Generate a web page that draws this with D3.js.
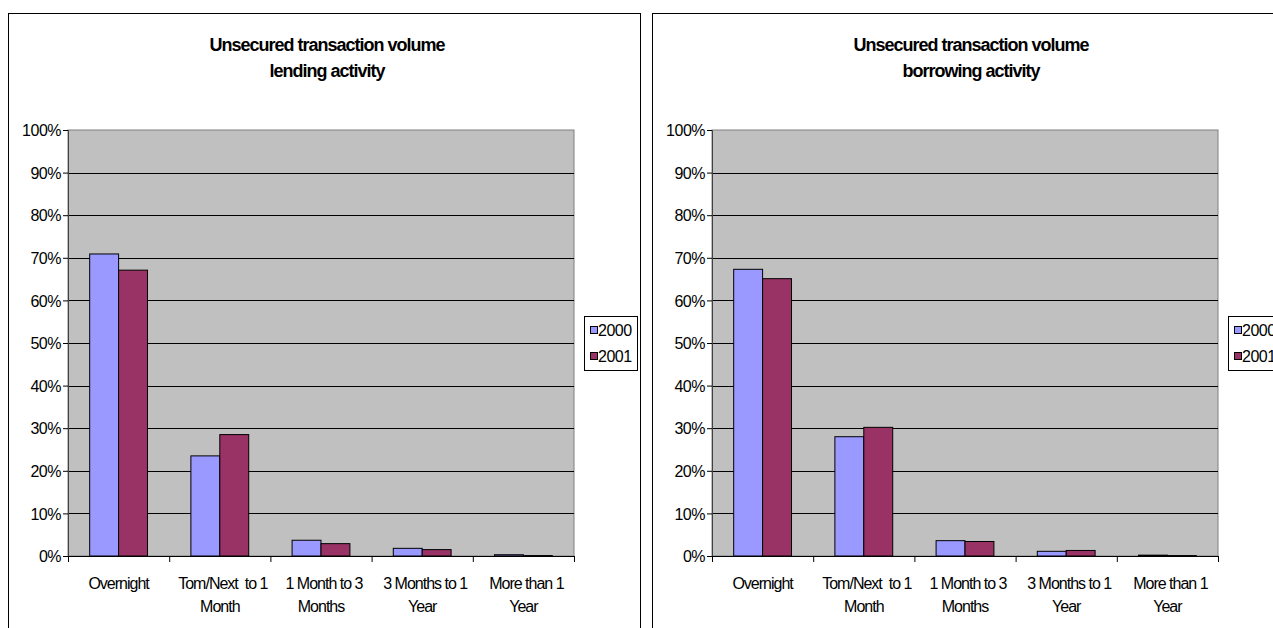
<!DOCTYPE html>
<html>
<head>
<meta charset="utf-8">
<script src="https://cdn.jsdelivr.net/npm/d3@7/dist/d3.min.js"></script>
<style>
  html, body { margin: 0; padding: 0; background: #fff; }
  svg { display: block; font-family: "Liberation Sans", Arial, sans-serif; }
  .tick text, .legend text { font-size: 16px; letter-spacing: -0.5px; fill: #000; }
  .cat text { font-size: 16px; letter-spacing: -1px; fill: #000; }
  .title { font-size: 18px; font-weight: bold; letter-spacing: -1px; }
</style>
</head>
<body>
<script>
// Maturity buckets of unsecured money-market transactions
const categories = ["Overnight", "Tom/Next to 1 Month", "1 Month to 3 Months", "3 Months to 1 Year", "More than 1 Year"];
const categoryLines = [["Overnight"], ["Tom/Next  to 1", "Month"], ["1 Month to 3", "Months"], ["3 Months to 1", "Year"], ["More than 1", "Year"]];
const seriesNames = ["2000", "2001"];
const seriesColors = ["#9999FF", "#993366"];

// Share of total volume, percent
const lending2000 = [70.9, 23.5, 3.7, 1.8, 0.3];
const lending2001 = [67.1, 28.5, 2.9, 1.5, 0.1];
const borrowing2000 = [67.3, 28.0, 3.6, 1.1, 0.2];
const borrowing2001 = [65.1, 30.2, 3.4, 1.3, 0.1];

const yTicks = [0, 10, 20, 30, 40, 50, 60, 70, 80, 90, 100];

const W = 1273, H = 628;
const svg = d3.select("body").append("svg").attr("width", W).attr("height", H);

function drawPanel(ox, titleLines, s2000, s2001) {
  const g = svg.append("g").attr("transform", `translate(${ox},0)`);

  // outer chart frame
  g.append("rect").attr("x", 8.5).attr("y", 13.5).attr("width", 632).attr("height", 640)
    .attr("fill", "#fff").attr("stroke", "#000").attr("stroke-width", 1);

  const plot = { left: 68, top: 130, width: 506, height: 426 };
  const y = d3.scaleLinear().domain([0, 100]).range([plot.top + plot.height, plot.top]);
  const x0 = d3.scaleBand().domain(categories).range([plot.left, plot.left + plot.width]).padding(0);
  const x1 = d3.scaleBand().domain(seriesNames).range([0, x0.bandwidth()]).paddingInner(0).paddingOuter(0.75);

  // title
  const t = g.append("text").attr("class", "title").attr("text-anchor", "middle");
  titleLines.forEach((line, i) => {
    t.append("tspan").attr("x", 327).attr("y", 51 + i * 26).text(line);
  });

  // plot background
  g.append("rect").attr("x", plot.left).attr("y", plot.top).attr("width", plot.width).attr("height", plot.height)
    .attr("fill", "#C0C0C0").attr("stroke", "#808080").attr("stroke-width", 1);

  // gridlines
  g.append("g").selectAll("line").data(yTicks.filter(d => d > 0 && d < 100)).join("line")
    .attr("x1", plot.left).attr("x2", plot.left + plot.width)
    .attr("y1", d => Math.round(y(d)) + 0.5).attr("y2", d => Math.round(y(d)) + 0.5)
    .attr("stroke", "#000").attr("stroke-width", 1);

  // bars
  const rows = categories.map((c, i) => ({ cat: c, vals: [s2000[i], s2001[i]] }));
  const groups = g.append("g").selectAll("g").data(rows).join("g")
    .attr("transform", d => `translate(${x0(d.cat)},0)`);
  groups.selectAll("rect").data(d => d.vals.map((v, j) => ({ name: seriesNames[j], v, j }))).join("rect")
    .attr("x", d => x1(d.name)).attr("width", x1.bandwidth())
    .attr("y", d => y(d.v)).attr("height", d => y(0) - y(d.v))
    .attr("fill", d => seriesColors[d.j]).attr("stroke", "#000").attr("stroke-width", 1);

  // value axis
  const yAxis = g.append("g").attr("transform", `translate(${plot.left},0)`)
    .call(d3.axisLeft(y).tickValues(yTicks).tickFormat(d => d + "%").tickSize(5).tickPadding(2));
  yAxis.select(".domain").attr("stroke", "#404040");
  yAxis.selectAll(".tick line").attr("stroke", "#000");
  yAxis.selectAll("text").attr("dy", "0.36em");

  // category axis: ticks at band boundaries
  const edges = d3.scaleLinear().domain([0, categories.length]).range([plot.left, plot.left + plot.width]);
  const xAxis = g.append("g").attr("transform", `translate(0,${plot.top + plot.height})`)
    .call(d3.axisBottom(edges).tickValues(d3.range(categories.length + 1)).tickFormat("").tickSize(6));
  xAxis.select(".domain").attr("stroke", "#000");
  xAxis.selectAll(".tick line").attr("stroke", "#000");

  // category labels
  const cat = g.append("g").attr("class", "cat");
  categoryLines.forEach((lines, i) => {
    const cx = x0(categories[i]) + x0.bandwidth() / 2;
    const txt = cat.append("text").attr("text-anchor", "middle").attr("xml:space", "preserve")
      .style("white-space", "pre");
    lines.forEach((line, k) => {
      txt.append("tspan").attr("x", cx + (lines.length > 1 && k === 0 ? 3 : 0))
        .attr("y", 589 + k * 23).text(line);
    });
  });

  // legend
  const lg = g.append("g").attr("class", "legend");
  lg.append("rect").attr("x", 584.5).attr("y", 316.5).attr("width", 53).attr("height", 54)
    .attr("fill", "#fff").attr("stroke", "#000").attr("stroke-width", 1);
  seriesNames.forEach((name, i) => {
    lg.append("rect").attr("x", 590.5).attr("y", 326.5 + i * 26).attr("width", 7).attr("height", 7)
      .attr("fill", seriesColors[i]).attr("stroke", "#000").attr("stroke-width", 1);
    lg.append("text").attr("x", 598).attr("y", 336 + i * 26).text(name);
  });
}

drawPanel(0, ["Unsecured transaction volume", "lending activity"], lending2000, lending2001);
drawPanel(644, ["Unsecured transaction volume", "borrowing activity"], borrowing2000, borrowing2001);
</script>
</body>
</html>
